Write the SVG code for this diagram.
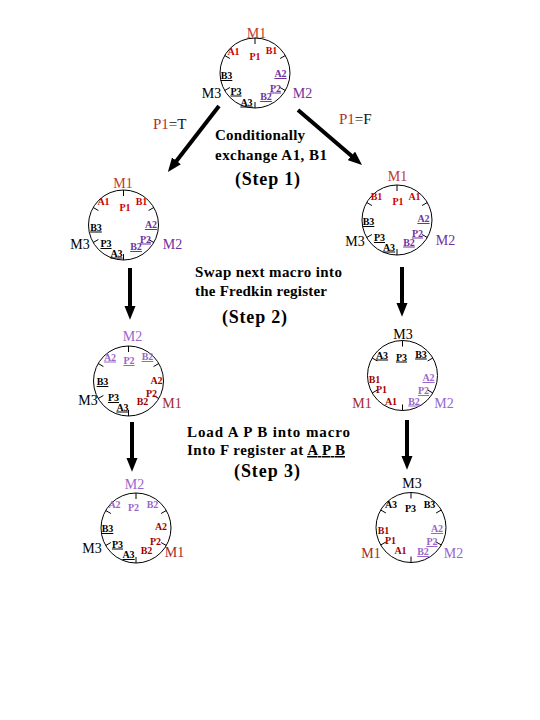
<svg xmlns="http://www.w3.org/2000/svg" xmlns:xlink="http://www.w3.org/1999/xlink" width="540" height="720" viewBox="0 0 540 720">
<style>
.ring{fill:none;stroke:#000;stroke-width:1}
.lb{font-family:"Liberation Serif","Times New Roman",serif;font-weight:bold;font-size:10px;text-anchor:middle}
.u{text-decoration:underline}
.m{font-family:"Liberation Serif","Times New Roman",serif;font-size:14px;text-anchor:middle}
.cap{font-family:"Liberation Serif","Times New Roman",serif;font-weight:bold;font-size:15px}
.step{font-family:"Liberation Serif","Times New Roman",serif;font-weight:bold;font-size:18px}
.cond{font-family:"Liberation Serif","Times New Roman",serif;font-size:15px}
.r{fill:#cc0000}.p{fill:#7030a0}.k{fill:#000}.dr{fill:#a00000}.lp{fill:#9966cc}.mr{fill:#c0392b}.mdr{fill:#a52a2a}
.arr{stroke:#000;stroke-width:4;fill:none;marker-end:url(#ah)}
</style>
<defs>
<marker id="ah" viewBox="0 0 10 8" refX="3" refY="4" markerWidth="3.5" markerHeight="2.8" orient="auto" markerUnits="strokeWidth"><path d="M0,0 L10,4 L0,8 z" fill="#000"/></marker>
<g id="ring" class="ring"><circle r="35"/><path d="M0,-35V-29M30.3,-17.5L25.1,-14.5M30.3,17.5L25.1,14.5M0,35V29M-30.3,17.5L-25.1,14.5M-30.3,-17.5L-25.1,-14.5"/></g>
</defs>
<rect width="540" height="720" fill="#fff"/>

<g id="connectors">
<line class="arr" x1="219" y1="106" x2="173.9" y2="164.2"/>
<line class="arr" x1="298" y1="110" x2="354.6" y2="158.6"/>
<line class="arr" x1="130" y1="268" x2="130" y2="310"/>
<line class="arr" x1="402" y1="267" x2="402" y2="307"/>
<line class="arr" x1="132" y1="422" x2="132" y2="462"/>
<line class="arr" x1="407" y1="420" x2="407" y2="460"/>
</g>

<g id="node-top">
<use xlink:href="#ring" href="#ring" x="255" y="73"/>
<text class="m mr" x="256.5" y="38">M1</text>
<text class="lb r" x="233.5" y="54.5">A1</text>
<text class="lb r" x="255" y="59.5">P1</text>
<text class="lb r" x="271.5" y="54">B1</text>
<text class="lb p u" x="280.5" y="77">A2</text>
<text class="lb p u" x="275.5" y="91.5">P2</text>
<text class="lb p u" x="266" y="100">B2</text>
<text class="lb k u" x="226.5" y="79">B3</text>
<text class="lb k u" x="236" y="94.5">P3</text>
<text class="lb k u" x="246.5" y="105.5">A3</text>
<text class="m k" x="211.5" y="98">M3</text>
<text class="m p" x="302.5" y="98">M2</text>
</g>

<g id="label-p1t"><text class="cond" x="153" y="129"><tspan fill="#b03030">P1</tspan><tspan fill="#111">=T</tspan></text></g>
<g id="label-p1f"><text class="cond" x="339" y="123.5"><tspan fill="#b03030">P1</tspan><tspan fill="#111">=F</tspan></text></g>

<g id="step1-text">
<text class="cap" x="215" y="140" textLength="90" lengthAdjust="spacing">Conditionally</text>
<text class="cap" x="215" y="160" textLength="112" lengthAdjust="spacing">exchange A1, B1</text>
<text class="step" x="235" y="185" textLength="65" lengthAdjust="spacing">(Step 1)</text>
</g>

<g id="node-s1-left">
<use xlink:href="#ring" href="#ring" x="123.5" y="225"/>
<text class="m mr" x="123" y="187.5">M1</text>
<text class="lb r" x="103.5" y="205">A1</text>
<text class="lb r" x="125" y="210.5">P1</text>
<text class="lb r" x="141.5" y="205">B1</text>
<text class="lb p u" x="151" y="228">A2</text>
<text class="lb p u" x="145.5" y="242.5">P2</text>
<text class="lb p u" x="136" y="250">B2</text>
<text class="lb k u" x="96" y="230.5">B3</text>
<text class="lb k u" x="106" y="247">P3</text>
<text class="lb k u" x="116.5" y="256.5">A3</text>
<text class="m k" x="80" y="249">M3</text>
<text class="m p" x="172.5" y="249">M2</text>
</g>

<g id="node-s1-right">
<use xlink:href="#ring" href="#ring" x="397" y="220"/>
<text class="m mr" x="397.5" y="181">M1</text>
<text class="lb r" x="376.5" y="200">B1</text>
<text class="lb r" x="398" y="205">P1</text>
<text class="lb r" x="414.5" y="200">A1</text>
<text class="lb p u" x="423.5" y="222">A2</text>
<text class="lb p u" x="417.5" y="236.5">P2</text>
<text class="lb p u" x="409" y="245.5">B2</text>
<text class="lb k u" x="368.5" y="225">B3</text>
<text class="lb k u" x="379.5" y="241">P3</text>
<text class="lb k u" x="389" y="250.5">A3</text>
<text class="m k" x="355" y="245.5">M3</text>
<text class="m p" x="445.5" y="244.5">M2</text>
</g>

<g id="step2-text">
<text class="cap" x="195" y="277" textLength="147" lengthAdjust="spacing">Swap next macro into</text>
<text class="cap" x="195" y="296" textLength="132" lengthAdjust="spacing">the Fredkin register</text>
<text class="step" x="222" y="323" textLength="65" lengthAdjust="spacing">(Step 2)</text>
</g>

<g id="node-s2-left">
<use xlink:href="#ring" href="#ring" x="128.5" y="381"/>
<text class="m lp" x="132.5" y="341">M2</text>
<text class="lb lp u" x="110" y="360.5">A2</text>
<text class="lb lp u" x="129" y="364">P2</text>
<text class="lb lp u" x="147.5" y="360">B2</text>
<text class="lb dr" x="156.5" y="383.5">A2</text>
<text class="lb dr" x="151.5" y="396.5">P2</text>
<text class="lb dr" x="142.5" y="404.5">B2</text>
<text class="lb k u" x="102.5" y="385">B3</text>
<text class="lb k u" x="113.5" y="401">P3</text>
<text class="lb k u" x="122.5" y="410.5">A3</text>
<text class="m k" x="88" y="405">M3</text>
<text class="m mdr" x="172" y="408">M1</text>
</g>

<g id="node-s2-right">
<use xlink:href="#ring" href="#ring" x="402.5" y="375.5"/>
<text class="m k" x="403" y="338.5">M3</text>
<text class="lb k u" x="382" y="358.5">A3</text>
<text class="lb k u" x="401.5" y="360.5">P3</text>
<text class="lb k u" x="421" y="357.5">B3</text>
<text class="lb dr" x="374.5" y="382.5">B1</text>
<text class="lb dr" x="381.5" y="392.5">P1</text>
<text class="lb dr" x="391" y="404.5">A1</text>
<text class="lb lp u" x="428.5" y="381">A2</text>
<text class="lb lp u" x="423.5" y="394">P2</text>
<text class="lb lp u" x="414" y="404.5">B2</text>
<text class="m mdr" x="362" y="408">M1</text>
<text class="m lp" x="444" y="408">M2</text>
</g>

<g id="step3-text">
<text class="cap" x="187" y="437" textLength="163" lengthAdjust="spacing">Load A P B into macro</text>
<text class="cap" x="187" y="455" textLength="158" lengthAdjust="spacing">Into F register at <tspan class="u">A P B</tspan></text>
<text class="step" x="234" y="477" textLength="66" lengthAdjust="spacing">(Step 3)</text>
</g>

<g id="node-s3-left">
<use xlink:href="#ring" href="#ring" x="136" y="528"/>
<text class="m lp" x="134.5" y="489">M2</text>
<text class="lb lp" x="114.5" y="508">A2</text>
<text class="lb lp" x="133.5" y="511">P2</text>
<text class="lb lp" x="152.5" y="508">B2</text>
<text class="lb dr" x="161" y="530">A2</text>
<text class="lb dr" x="155.5" y="544.5">P2</text>
<text class="lb dr" x="146.5" y="554">B2</text>
<text class="lb k u" x="107.5" y="532">B3</text>
<text class="lb k u" x="117.5" y="547.5">P3</text>
<text class="lb k u" x="128.5" y="558">A3</text>
<text class="m k" x="92" y="553">M3</text>
<text class="m mdr" x="174.5" y="556.5">M1</text>
</g>

<g id="node-s3-right">
<use xlink:href="#ring" href="#ring" x="411" y="527.5"/>
<text class="m k" x="412" y="487.5">M3</text>
<text class="lb k" x="391" y="508">A3</text>
<text class="lb k" x="410.5" y="511.5">P3</text>
<text class="lb k" x="429.5" y="508">B3</text>
<text class="lb dr" x="383.5" y="534">B1</text>
<text class="lb dr" x="390.5" y="544">P1</text>
<text class="lb dr" x="400.5" y="554">A1</text>
<text class="lb lp u" x="437" y="532">A2</text>
<text class="lb lp u" x="432" y="545">P2</text>
<text class="lb lp u" x="423" y="555">B2</text>
<text class="m mdr" x="371" y="557.5">M1</text>
<text class="m lp" x="453.5" y="557.5">M2</text>
</g>
</svg>
